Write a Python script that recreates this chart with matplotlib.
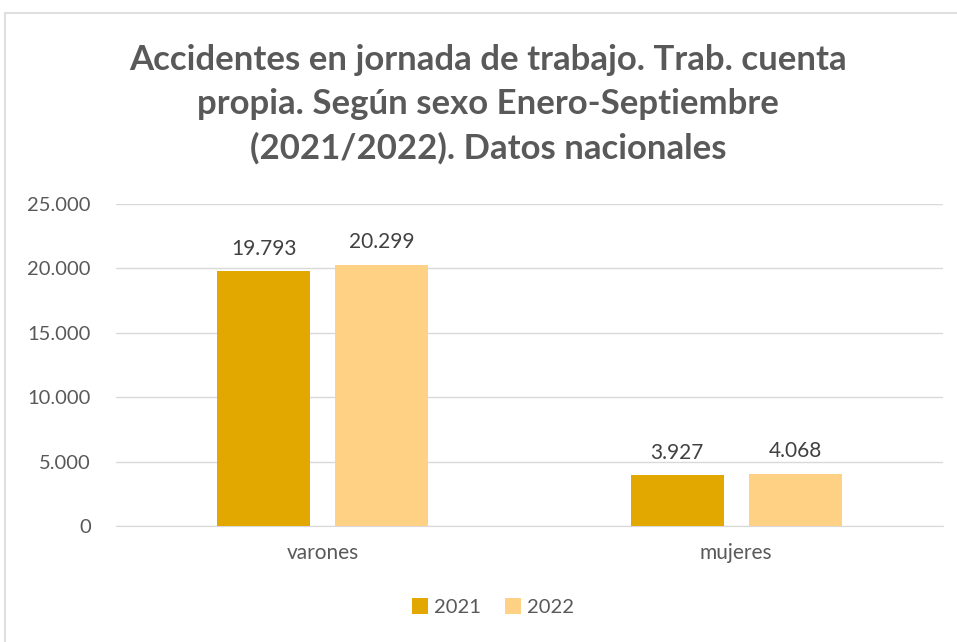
import matplotlib
matplotlib.use("Agg")
import matplotlib.pyplot as plt
from matplotlib.patches import Rectangle
import numpy as np

categories = ["varones", "mujeres"]
series_names = ["2021", "2022"]
values_2021 = [19793, 3927]
values_2022 = [20299, 4068]
yticks = [0, 5000, 10000, 15000, 20000, 25000]

def fmt(v):
    return f"{v:,}".replace(",", ".")

plt.rcParams['font.family'] = ['Lato', 'DejaVu Sans']
TXT = "#595959"
C1 = "#E3A800"
C2 = "#FFD185"

fig = plt.figure(figsize=(9.57, 6.42), dpi=100)
fig.patches.append(Rectangle((5/957, -0.2), 1.2, (642-13)/642 + 0.2, transform=fig.transFigure,
                             fill=False, edgecolor="#D9D9D9", linewidth=1.2))
ax = fig.add_axes([116/957, 1-526/642, (943-116)/957, (526-204)/642])

x = np.arange(len(categories))
w = 0.225
off = 0.1425
b1 = ax.bar(x - off, values_2021, w, color=C1, label=series_names[0], zorder=3)
b2 = ax.bar(x + off, values_2022, w, color=C2, label=series_names[1], zorder=3)
for bars, vals in ((b1, values_2021), (b2, values_2022)):
    for r, v in zip(bars, vals):
        ax.annotate(fmt(v), (r.get_x() + r.get_width()/2, v), xytext=(0, 9),
                    textcoords="offset points", ha="center", va="bottom",
                    fontsize=15, color="#404040")

ax.set_xlim(-0.5, 1.5)
ax.set_ylim(0, 25000)
ax.set_yticks(yticks)
ax.set_yticklabels([fmt(v) for v in yticks], fontsize=14.5, color=TXT)
ax.set_xticks(x)
ax.set_xticklabels(categories, fontsize=15, color=TXT)
ax.tick_params(axis="y", length=0, pad=18)
ax.tick_params(axis="x", length=0, pad=12)
ax.grid(axis="y", color="#D9D9D9", linewidth=1, zorder=0)
for s in ["top", "right", "left"]:
    ax.spines[s].set_visible(False)
ax.spines["bottom"].set_color("#D9D9D9")

fig.text(0.51, 1-104/642, "Accidentes en jornada de trabajo. Trab. cuenta\npropia. Según sexo Enero-Septiembre\n(2021/2022). Datos nacionales",
         ha="center", va="center", fontsize=25, fontweight="bold", color=TXT, linespacing=1.45)

fig.legend(handles=[b1, b2], labels=series_names, loc="center", bbox_to_anchor=(493/957, 1-607/642),
           ncol=2, frameon=False, fontsize=14.5, labelcolor=TXT, handlelength=0.8, handleheight=0.8,
           handletextpad=0.3, columnspacing=1.2)

fig.savefig("out.png", dpi=100)
